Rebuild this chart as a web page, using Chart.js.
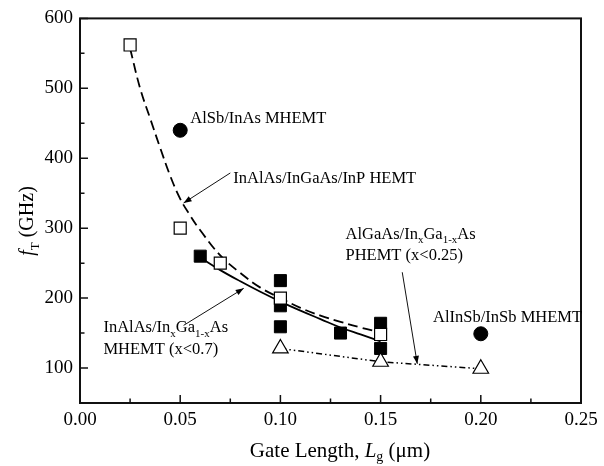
<!DOCTYPE html>
<html>
<head>
<meta charset="utf-8">
<script src="https://cdn.jsdelivr.net/npm/chart.js@4.4.1/dist/chart.umd.min.js"></script>
<style>
  html, body { margin: 0; padding: 0; background: #fff; }
</style>
</head>
<body>
<canvas id="c" width="604" height="466"></canvas>
<script>
// eixos
const xTicks = [0, 0.05, 0.10, 0.15, 0.20, 0.25];
const yTicks = [100, 200, 300, 400, 500, 600];
const xMinor = [0.025, 0.075, 0.125, 0.175, 0.225];
const yMinor = [150, 250, 350, 450, 550];

// InAlAs/InGaAs/InP HEMT (quadrados abertos)
const hemtX = [0.025, 0.05, 0.07, 0.10, 0.15];
const hemtY = [562, 300, 250, 200, 148];
// InAlAs/InxGa1-xAs MHEMT (quadrados cheios)
const mhemtX = [0.06, 0.10, 0.10, 0.10, 0.13, 0.15, 0.15];
const mhemtY = [260, 225, 189, 159, 150, 164, 128];
// AlGaAs/InxGa1-xAs PHEMT (triângulos)
const phemtX = [0.10, 0.15, 0.20];
const phemtY = [128, 109, 99];
// AlSb/InAs e AlInSb/InSb MHEMT (círculos cheios)
const sbX = [0.05, 0.20];
const sbY = [440, 149];

// curvas de ajuste
const fitHemtX = [0.025, 0.03, 0.035, 0.04, 0.045, 0.05, 0.055, 0.06, 0.07, 0.08, 0.09, 0.10, 0.11, 0.12, 0.13, 0.14, 0.15];
const fitHemtY = [557, 500, 457, 415, 375, 342, 318, 297, 261, 236, 215, 200, 186, 175, 166, 158, 151];
const fitMhemtX = [0.06, 0.07, 0.08, 0.09, 0.10, 0.11, 0.12, 0.13, 0.14, 0.15];
const fitMhemtY = [258, 240, 224, 209, 195, 182, 170, 158, 148, 138];

// anotações (canto esquerdo da linha de base, em unidades de dados)
const notes = [
  { x: 0.055,  y: 451, segs: [["AlSb/InAs MHEMT", ""]] },
  { x: 0.0765, y: 364, segs: [["InAlAs/InGaAs/InP HEMT", ""]] },
  { x: 0.1325, y: 285, segs: [["AlGaAs/In", ""], ["x", "sub"], ["Ga", ""], ["1-x", "sub"], ["As", ""]] },
  { x: 0.1325, y: 254, segs: [["PHEMT (x<0.25)", ""]] },
  { x: 0.1762, y: 166, segs: [["AlInSb/InSb MHEMT", ""]] },
  { x: 0.0117, y: 151, segs: [["InAlAs/In", ""], ["x", "sub"], ["Ga", ""], ["1-x", "sub"], ["As", ""]] },
  { x: 0.0117, y: 120, segs: [["MHEMT (x<0.7)", ""]] }
];
const arrows = [
  { from: [0.075, 379], to: [0.0517, 336] },
  { from: [0.1608, 237], to: [0.1683, 106] },
  { from: [0.0517, 161], to: [0.0817, 214] }
];

const FONT = '"Liberation Serif", "Times New Roman", serif';

function pts(xs, ys) { return xs.map((v, i) => ({ x: v, y: ys[i] })); }

// texto com subscritos / itálico, segmento a segmento
function rich(ctx, segs, x, y, size, measureOnly, subDrop) {
  const drop = subDrop == null ? 0.28 : subDrop;
  let cx = x;
  segs.forEach(([txt, kind]) => {
    const sub = kind === "sub";
    ctx.font = (kind === "i" ? "italic " : "") + (sub ? Math.round(size * 0.65) : size) + "px " + FONT;
    if (!measureOnly) ctx.fillText(txt, cx, y + (sub ? size * drop : 0));
    cx += ctx.measureText(txt).width;
  });
  return cx - x;
}

const decor = {
  id: "decor",
  afterDraw(chart) {
    const { ctx, chartArea: a, scales: { x, y } } = chart;
    ctx.save();
    ctx.strokeStyle = "#111";
    ctx.fillStyle = "#000";

    // moldura
    ctx.lineWidth = 2;
    ctx.strokeRect(a.left, a.top, a.right - a.left, a.bottom - a.top);

    // marcas para dentro
    ctx.lineWidth = 1.5;
    ctx.beginPath();
    xTicks.forEach(v => { const p = x.getPixelForValue(v); ctx.moveTo(p, a.bottom); ctx.lineTo(p, a.bottom - 8); });
    xMinor.forEach(v => { const p = x.getPixelForValue(v); ctx.moveTo(p, a.bottom); ctx.lineTo(p, a.bottom - 4.5); });
    yTicks.forEach(v => { const p = y.getPixelForValue(v); ctx.moveTo(a.left, p); ctx.lineTo(a.left + 8, p); });
    yMinor.forEach(v => { const p = y.getPixelForValue(v); ctx.moveTo(a.left, p); ctx.lineTo(a.left + 4.5, p); });
    ctx.stroke();

    // setas
    ctx.lineWidth = 1;
    arrows.forEach(ar => {
      const x0 = x.getPixelForValue(ar.from[0]), y0 = y.getPixelForValue(ar.from[1]);
      const x1 = x.getPixelForValue(ar.to[0]), y1 = y.getPixelForValue(ar.to[1]);
      const ang = Math.atan2(y1 - y0, x1 - x0);
      ctx.beginPath(); ctx.moveTo(x0, y0); ctx.lineTo(x1, y1); ctx.stroke();
      ctx.beginPath();
      ctx.moveTo(x1, y1);
      ctx.lineTo(x1 - 8 * Math.cos(ang) + 3 * Math.sin(ang), y1 - 8 * Math.sin(ang) - 3 * Math.cos(ang));
      ctx.lineTo(x1 - 8 * Math.cos(ang) - 3 * Math.sin(ang), y1 - 8 * Math.sin(ang) + 3 * Math.cos(ang));
      ctx.closePath(); ctx.fill();
    });

    // textos
    ctx.textBaseline = "alphabetic";
    ctx.textAlign = "left";
    notes.forEach(n => rich(ctx, n.segs, x.getPixelForValue(n.x), y.getPixelForValue(n.y), 16.5));

    // título eixo x
    const xt = [["Gate Length, ", ""], ["L", "i"], ["g", "sub"], [" (\u03bcm)", ""]];
    const wx = rich(ctx, xt, 0, 0, 21, true);
    rich(ctx, xt, 340 - wx / 2, 457, 21, false, 0.2);

    // título eixo y
    const yt = [["f", "i"], ["T", "sub"], [" (GHz)", ""]];
    const wy = rich(ctx, yt, 0, 0, 20, true);
    ctx.translate(33, 221);
    ctx.rotate(-Math.PI / 2);
    rich(ctx, yt, -wy / 2, 0, 20);
    ctx.restore();
  }
};

new Chart(document.getElementById("c"), {
  type: "scatter",
  data: {
    datasets: [
      { data: pts(sbX, sbY), pointStyle: "circle", pointRadius: 7, backgroundColor: "#000", borderColor: "#000", borderWidth: 1, order: 1 },
      { data: pts(hemtX, hemtY), pointStyle: "rect", pointRadius: 8.5, backgroundColor: "#fff", borderColor: "#000", borderWidth: 1.2, order: 1 },
      { data: pts(phemtX, phemtY), pointStyle: "triangle", pointRadius: 9, backgroundColor: "#fff", borderColor: "#000", borderWidth: 1.2, order: 2 },
      { data: pts(mhemtX, mhemtY), pointStyle: "rect", pointRadius: 8.5, backgroundColor: "#000", borderColor: "#000", borderWidth: 1, order: 3 },
      { data: pts(fitHemtX, fitHemtY), showLine: true, pointRadius: 0, borderColor: "#000", borderWidth: 1.8, borderDash: [10, 5], tension: 0.4, order: 4 },
      { data: pts(fitMhemtX, fitMhemtY), showLine: true, pointRadius: 0, borderColor: "#000", borderWidth: 1.8, tension: 0.4, order: 4 },
      { data: pts(phemtX, phemtY), showLine: true, pointRadius: 0, borderColor: "#000", borderWidth: 1.5, borderDash: [6, 3, 1.5, 3, 1.5, 3], order: 4 }
    ]
  },
  options: {
    responsive: false, animation: false, devicePixelRatio: 1,
    layout: { padding: { top: 16, right: 23, left: 0, bottom: 0 } },
    plugins: { legend: { display: false }, tooltip: { enabled: false } },
    scales: {
      x: {
        type: "linear", min: 0, max: 0.25,
        afterBuildTicks: s => { s.ticks = xTicks.map(v => ({ value: v })); },
        afterFit: s => { s.height = 63; },
        grid: { display: false, drawTicks: false }, border: { display: false },
        ticks: { color: "#000", padding: 6, font: { family: FONT, size: 19 }, callback: v => v.toFixed(2), maxRotation: 0 }
      },
      y: {
        type: "linear", min: 50, max: 600,
        afterBuildTicks: s => { s.ticks = yTicks.map(v => ({ value: v })); },
        afterFit: s => { s.width = 80; },
        grid: { display: false, drawTicks: false }, border: { display: false },
        ticks: { color: "#000", padding: 7, font: { family: FONT, size: 19 } }
      }
    }
  },
  plugins: [decor]
});
</script>
</body>
</html>
